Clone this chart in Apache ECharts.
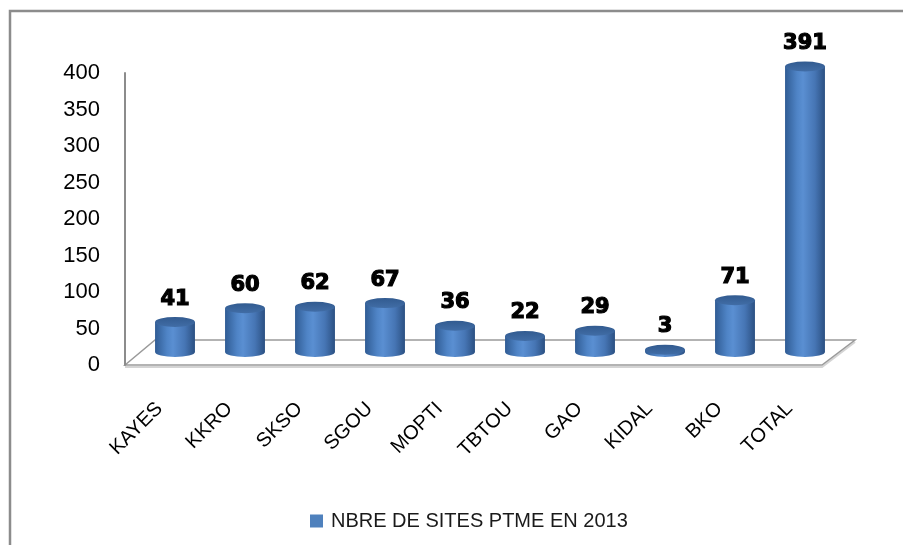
<!DOCTYPE html>
<html>
<head>
<meta charset="utf-8">
<script src="https://cdn.jsdelivr.net/npm/echarts@6/dist/echarts.min.js"></script>
<style>
  html, body { margin: 0; padding: 0; background: #ffffff; }
  #chart { width: 903px; height: 545px; }
</style>
</head>
<body>
<div id="chart"></div>
<script>
// Sites PTME par région, 2013
const categories = ['KAYES', 'KKRO', 'SKSO', 'SGOU', 'MOPTI', 'TBTOU', 'GAO', 'KIDAL', 'BKO', 'TOTAL'];
const sites2013 = [41, 60, 62, 67, 36, 22, 29, 3, 71, 391];
const seriesName = 'NBRE DE SITES PTME EN 2013';
const yMin = 0;
const yMax = 400;
const yStep = 50;

const W = 903, H = 545;
const GRID = { left: 140, right: 63, top: 73, bottom: 180 };
const AXIS_OFFSET = 15;      // value axis sits left of the first category band
const FLOOR_DEPTH = 25;      // vertical depth of the 3D floor
const FLOOR_SKEW = 30;       // horizontal skew of the floor
const CYL_LIFT = 13;         // cylinders stand in the middle of the floor

const chart = echarts.init(document.getElementById('chart'), null, { renderer: 'canvas' });

function renderCylinder(params, api) {
  const idx = api.value(0);
  const val = api.value(1);
  const base = api.coord([idx, 0]);
  const top = api.coord([idx, val]);
  const band = api.size([1, 0])[0];
  const rx = band * 0.285;
  const ry = 5;
  const cx = base[0];
  const yb = base[1] - CYL_LIFT;
  const yt = top[1] - CYL_LIFT;
  const l = cx - rx, r = cx + rx;

  const bodyPath = 'M' + l + ' ' + yt + ' L' + l + ' ' + yb +
    ' A' + rx + ' ' + ry + ' 0 0 0 ' + r + ' ' + yb +
    ' L' + r + ' ' + yt + ' Z';
  const capPath = 'M' + l + ' ' + yt +
    ' A' + rx + ' ' + ry + ' 0 1 0 ' + r + ' ' + yt +
    ' A' + rx + ' ' + ry + ' 0 1 0 ' + l + ' ' + yt + ' Z';

  return {
    type: 'group',
    children: [
      {
        type: 'path',
        shape: { pathData: bodyPath },
        style: {
          fill: new echarts.graphic.LinearGradient(0, 0, 1, 0, [
            { offset: 0, color: '#305c94' },
            { offset: 0.3, color: '#4f84c6' },
            { offset: 0.45, color: '#5a8fd2' },
            { offset: 0.75, color: '#4675b4' },
            { offset: 1, color: '#2b5082' }
          ])
        }
      },
      {
        type: 'path',
        shape: { pathData: capPath },
        style: {
          fill: new echarts.graphic.LinearGradient(0, 0, 0, 1, [
            { offset: 0, color: '#325b90' },
            { offset: 1, color: '#416da6' }
          ])
        }
      },
      {
        type: 'text',
        x: cx,
        y: yt - 23,
        style: {
          text: String(val),
          font: 'bold 21px "DejaVu Sans"',
          fill: '#000000',
          stroke: '#000000',
          lineWidth: 1.2,
          align: 'center',
          verticalAlign: 'middle'
        }
      }
    ]
  };
}

// 3D floor under the cylinders
const frontY = H - GRID.bottom;
const frontLeft = GRID.left - AXIS_OFFSET;
const frontRight = W - GRID.right - 18;
const backY = frontY - FLOOR_DEPTH;
const backLeft = frontLeft + FLOOR_SKEW;
const backRight = W - GRID.right + 15;

const option = {
  backgroundColor: '#ffffff',
  animation: false,
  grid: { left: GRID.left, right: GRID.right, top: GRID.top, bottom: GRID.bottom, containLabel: false },
  legend: {
    data: [{ name: seriesName, icon: 'rect' }],
    left: 305,
    top: 506,
    itemWidth: 13,
    itemHeight: 13,
    textStyle: {
      fontFamily: '"Liberation Sans", Arial, sans-serif',
      fontSize: 20,
      color: '#1a1a1a',
      padding: [0, 0, 0, 3]
    }
  },
  xAxis: {
    type: 'category',
    data: categories,
    axisLine: { show: false },
    axisTick: { show: false },
    splitLine: { show: false },
    axisLabel: {
      interval: 0,
      rotate: 45,
      margin: 25,
      padding: [0, 22, 0, 0],
      fontFamily: '"Liberation Sans", Arial, sans-serif',
      fontSize: 20,
      color: '#000000'
    }
  },
  yAxis: {
    type: 'value',
    min: yMin,
    max: yMax,
    interval: yStep,
    offset: AXIS_OFFSET,
    axisLine: { show: true, lineStyle: { color: '#8c8c8c', width: 2 } },
    axisTick: { show: false },
    splitLine: { show: false },
    axisLabel: {
      margin: 25,
      fontFamily: '"Liberation Sans", Arial, sans-serif',
      fontSize: 22,
      color: '#000000'
    }
  },
  graphic: [
    {
      type: 'polyline',
      z: 0,
      shape: { points: [[10, H + 10], [10, 11], [W + 10, 11]] },
      style: { fill: 'none', stroke: '#8c8c8c', lineWidth: 2.5 }
    },
    {
      type: 'polyline',
      z: 0,
      shape: { points: [[frontLeft, frontY + 2], [frontRight, frontY + 2], [backRight, backY + 2]] },
      style: { fill: 'none', stroke: '#d4d4d4', lineWidth: 2 }
    },
    {
      type: 'polygon',
      z: 0,
      shape: { points: [[frontLeft, frontY], [backLeft, backY], [backRight, backY], [frontRight, frontY]] },
      style: { fill: '#ffffff', stroke: '#9a9a9a', lineWidth: 1.5 }
    }
  ],
  series: [
    {
      name: seriesName,
      type: 'custom',
      itemStyle: { color: '#4f81bd' },
      renderItem: renderCylinder,
      encode: { x: 0, y: 1 },
      data: sites2013.map(function (v, i) { return [i, v]; }),
      z: 3
    }
  ]
};

chart.setOption(option);
</script>
</body>
</html>
